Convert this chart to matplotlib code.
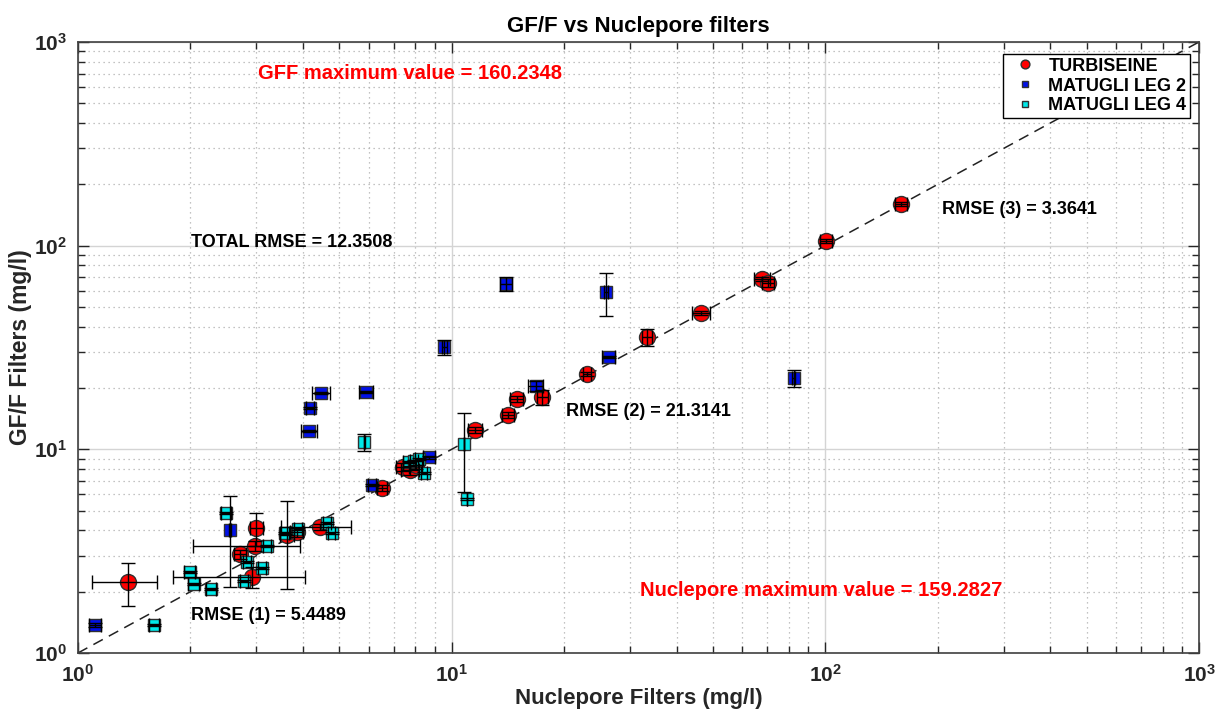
#!/usr/bin/env python3

import numpy as np
import matplotlib
matplotlib.use("Agg")
from matplotlib import pyplot as plt
from matplotlib.ticker import FuncFormatter, LogLocator, NullFormatter

plt.rcParams['font.family'] = ['Liberation Sans', 'DejaVu Sans']
plt.rcParams['mathtext.fontset'] = 'custom'
plt.rcParams['mathtext.rm'] = 'Liberation Sans:bold'
plt.rcParams['mathtext.bf'] = 'Liberation Sans:bold'

# TURBISEINE (red circles)
turb_x = [1.36, 2.71, 2.92, 2.98, 3.00, 3.63, 3.85, 4.44, 6.51, 7.41, 7.75, 8.05,
          11.54, 14.15, 14.95, 17.5, 23.0, 33.3, 46.5, 67.7, 70.2, 100.5, 159.28]
turb_y = [2.23, 3.06, 2.36, 3.35, 4.10, 3.80, 3.93, 4.16, 6.46, 8.19, 7.90, 8.40,
          12.4, 14.7, 17.6, 18.06, 23.4, 35.6, 46.7, 68.6, 65.5, 105.3, 160.23]
turb_xerr = [0.27, 0.10, 1.12, 0.95, 0.12, 0.15, 0.15, 0.95, 0.20, 0.30, 0.45, 0.30,
             0.50, 0.50, 0.60, 0.60, 0.60, 1.0, 2.5, 3.3, 2.5, 4.0, 6.0]
turb_yerr = [0.53, 0.15, 0.28, 0.20, 0.75, 1.75, 0.20, 0.15, 0.25, 0.40, 0.40, 0.40,
             0.40, 0.50, 0.60, 1.5, 0.50, 3.3, 1.0, 1.5, 3.0, 2.0, 3.0]

# MATUGLI LEG 2 (blue squares)
leg2_x = [1.11, 2.55, 4.15, 4.17, 4.47, 5.90, 6.13, 8.70, 9.55, 14.0, 16.8, 25.9, 26.3, 82.4]
leg2_y = [1.37, 4.02, 12.3, 15.95, 18.9, 19.1, 6.68, 9.14, 31.8, 64.8, 20.5, 59.2, 28.4, 22.4]
leg2_xerr = [0.04, 0.02, 0.20, 0.10, 0.25, 0.25, 0.15, 0.30, 0.15, 0.50, 0.80, 0.30, 1.0, 0.8]
leg2_yerr = [0.03, 1.9, 0.15, 0.20, 0.25, 0.25, 0.10, 0.15, 2.7, 5.2, 1.2, 13.9, 0.4, 2.1]

# MATUGLI LEG 4 (cyan squares)
leg4_x = [1.60, 1.99, 2.04, 2.27, 2.49, 2.78, 2.83, 3.11, 3.20, 3.58, 3.88, 4.64, 4.78,
          5.83, 7.69, 7.95, 8.20, 8.43, 10.79, 11.0]
leg4_y = [1.37, 2.50, 2.18, 2.06, 4.87, 2.26, 2.80, 2.61, 3.35, 3.88, 4.06, 4.35, 3.88,
          10.86, 8.67, 8.80, 8.95, 7.64, 10.6, 5.69]
leg4_xerr = [0.05, 0.07, 0.07, 0.07, 0.07, 0.07, 0.07, 0.08, 0.08, 0.10, 0.10, 0.12, 0.10,
             0.02, 0.30, 0.20, 0.20, 0.15, 0.02, 0.02]
leg4_yerr = [0.01, 0.02, 0.02, 0.02, 0.03, 0.02, 0.02, 0.02, 0.03, 0.03, 0.03, 0.04, 0.03,
             1.05, 0.08, 0.08, 0.08, 0.07, 4.4, 0.05]

series = [
    ("TURBISEINE", turb_x, turb_y, turb_xerr, turb_yerr, "o", "#ff0000", 11.5),
    ("MATUGLI LEG 2", leg2_x, leg2_y, leg2_xerr, leg2_yerr, "s", "#0010e8", 9),
    ("MATUGLI LEG 4", leg4_x, leg4_y, leg4_xerr, leg4_yerr, "s", "#00e8e8", 9),
]

annotations = [
    (0.1606, 0.949, "GFF maximum value = 160.2348", "red", 14.5),
    (0.1008, 0.671, "TOTAL RMSE = 12.3508", "black", 13),
    (0.7707, 0.725, "RMSE (3) = 3.3641", "black", 13),
    (0.4353, 0.396, "RMSE (2) = 21.3141", "black", 13),
    (0.5013, 0.103, "Nuclepore maximum value = 159.2827", "red", 14.5),
    (0.1008, 0.062, "RMSE (1) = 5.4489", "black", 13),
]

fig = plt.figure(figsize=(12.22, 7.10), dpi=100)
ax = fig.add_axes([0.0638, 0.0803, 0.9174, 0.8606])
ax.set_xscale("log")
ax.set_yscale("log")

# 1:1 line
ax.plot([1, 1000], [1, 1000], linestyle=(0, (7, 4.5)), color="#222222", linewidth=1.1, zorder=2)

for label, x, y, xe, ye, marker, color, ms in series:
    ax.plot(x, y, linestyle="none", marker=marker, markersize=ms, markerfacecolor=color,
            markeredgecolor="#303030", markeredgewidth=1.0, label=label, zorder=3)
    ax.errorbar(x, y, xerr=xe, yerr=ye, fmt="none", ecolor="black", elinewidth=1.0,
                capsize=5, capthick=1.0, zorder=4)

ax.set_xlim(1, 1000)
ax.set_ylim(1, 1000)

fmt = FuncFormatter(lambda v, pos: r"$\mathbf{10^{%d}}$" % int(round(np.log10(v))))
for axis in (ax.xaxis, ax.yaxis):
    axis.set_major_locator(LogLocator(base=10, numticks=10))
    axis.set_minor_locator(LogLocator(base=10, subs=np.arange(2, 10), numticks=100))
    axis.set_major_formatter(fmt)
    axis.set_minor_formatter(NullFormatter())

ax.tick_params(which="both", direction="in", top=True, right=True, colors="#262626",
               labelsize=15, width=1.0)
ax.tick_params(which="major", length=8, pad=8)
ax.tick_params(which="minor", length=5)
for sp in ax.spines.values():
    sp.set_color("#404040")
    sp.set_linewidth(1.2)

ax.grid(True, which="major", color="#d4d4d4", linestyle="-", linewidth=1.0, zorder=0)
ax.grid(True, which="minor", color="#b0b0b0", linestyle=(0, (1, 3)), linewidth=0.9, zorder=0)
ax.set_axisbelow(True)

ax.set_title("GF/F vs Nuclepore filters", fontsize=16, fontweight="bold", pad=7)
ax.set_xlabel("Nuclepore Filters (mg/l)", fontsize=16, fontweight="bold", color="#262626", labelpad=1.5)
ax.set_ylabel("GF/F Filters (mg/l)", fontsize=16.5, fontweight="bold", color="#262626", labelpad=1)

for tx, ty, text, color, fs in annotations:
    ax.text(tx, ty, text, transform=ax.transAxes, color=color, fontsize=fs,
            fontweight="bold", ha="left", va="center")

leg = ax.legend(loc="upper right", bbox_to_anchor=(0.992, 0.980), borderaxespad=0,
                markerscale=0.55, prop={"weight": "bold", "size": 13}, fancybox=False,
                edgecolor="black", framealpha=1, borderpad=0.2, handletextpad=0.3,
                labelspacing=0.15, handlelength=2.0)
leg.get_frame().set_linewidth(1.0)

fig.savefig("out.png", dpi=100)
